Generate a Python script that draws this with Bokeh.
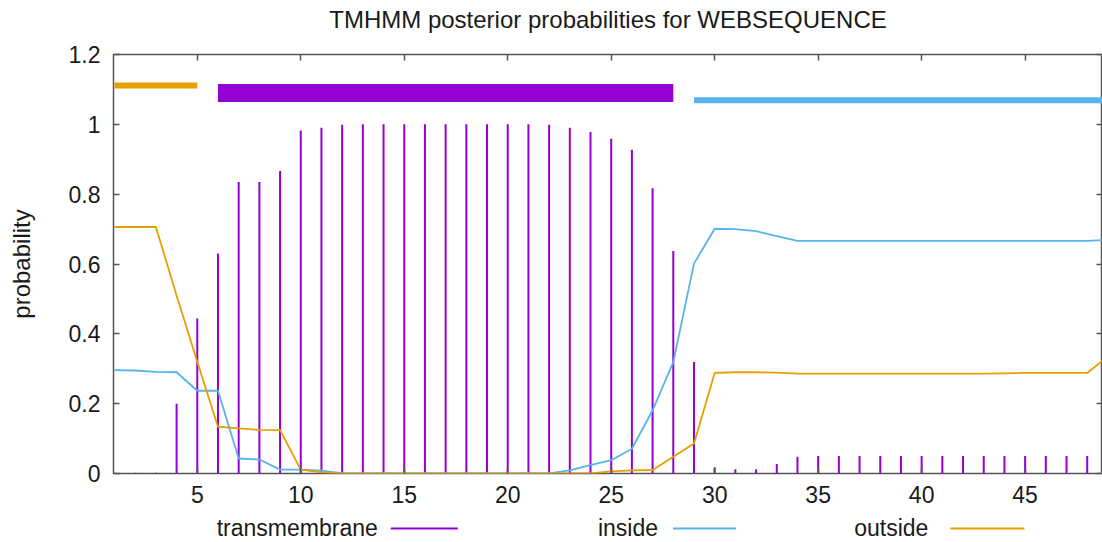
from bokeh.plotting import figure
from bokeh.models import (Range1d, FixedTicker, LinearAxis, CustomJSTickFormatter,
                          ColumnDataSource)
from bokeh.layouts import column
from bokeh.embed import file_html
from bokeh.resources import INLINE
from bokeh.core.properties import value

# ---------------- data ----------------
positions = list(range(1, 50))

transmembrane = [0.0, 0.002, 0.002, 0.20, 0.444, 0.63, 0.835, 0.835, 0.866, 0.982,
                 0.99, 0.999, 1.0, 1.0, 1.0, 1.0, 1.0, 1.0, 1.0, 1.0,
                 1.0, 0.999, 0.99, 0.978, 0.959, 0.927, 0.817, 0.637, 0.319, 0.017,
                 0.012, 0.012, 0.027, 0.048, 0.05, 0.05, 0.05, 0.05, 0.05, 0.05,
                 0.05, 0.05, 0.05, 0.05, 0.05, 0.05, 0.05, 0.05, 0.05]

inside = [0.296, 0.295, 0.291, 0.290, 0.237, 0.237, 0.043, 0.040, 0.011, 0.011,
          0.008, 0.001, 0.0, 0.0, 0.0, 0.0, 0.0, 0.0, 0.0, 0.0,
          0.0, 0.0, 0.009, 0.024, 0.038, 0.071, 0.181, 0.319, 0.601, 0.701,
          0.700, 0.694, 0.680, 0.666, 0.666, 0.666, 0.666, 0.666, 0.666, 0.666,
          0.666, 0.666, 0.666, 0.666, 0.666, 0.666, 0.666, 0.666, 0.669]

outside = [0.706, 0.706, 0.706, 0.51, 0.32, 0.134, 0.129, 0.125, 0.124, 0.011,
           0.003, 0.0, 0.0, 0.0, 0.0, 0.0, 0.0, 0.0, 0.0, 0.0,
           0.0, 0.0, 0.0, 0.0, 0.006, 0.009, 0.010, 0.048, 0.086, 0.288,
           0.290, 0.290, 0.289, 0.286, 0.286, 0.286, 0.286, 0.286, 0.286, 0.286,
           0.286, 0.286, 0.286, 0.287, 0.288, 0.288, 0.288, 0.288, 0.335]

# predicted topology segments (start, end)
seg_kind = ["outside", "TMhelix", "inside"]
seg_start = [1, 6, 29]
seg_end = [5, 28, 49]

x_ticks = [5, 10, 15, 20, 25, 30, 35, 40, 45]
y_ticks = [0, 0.2, 0.4, 0.6, 0.8, 1.0, 1.2]

legend_labels = ["transmembrane", "inside", "outside"]

title_text = "TMHMM posterior probabilities for WEBSEQUENCE"
y_label = "probability"

# ---------------- styles / layout ----------------
C_TM = "#9400d3"
C_IN = "#56b4e9"
C_OUT = "#e69f00"
FONT = "Liberation Sans"
FS = "23px"
TXT = "#1a1a1a"
FRAME = "#555555"
seg_style = {"outside": (C_OUT, 1.111, 6), "TMhelix": (C_TM, 1.09, 18), "inside": (C_IN, 1.069, 6)}

W = 1102
H_MAIN, H_LEG = 512, 30
B_LEFT, B_TOP, B_BOTTOM = 113, 54, 39
PX_PER_X = 20.675
X_START = 1 - 1.0 / PX_PER_X
X_END = X_START + (W - 1 - B_LEFT) / PX_PER_X


def sx_to_data(px):
    return X_START + (px - B_LEFT) / PX_PER_X


xr = Range1d(X_START, X_END)
p = figure(width=W, height=H_MAIN, x_range=xr, y_range=Range1d(0, 1.2),
           output_backend="svg", toolbar_location=None, title=None,
           min_border_left=B_LEFT, min_border_top=B_TOP, min_border_bottom=B_BOTTOM,
           min_border_right=0)
p.background_fill_color = "white"
p.border_fill_color = "white"
p.grid.visible = False
p.outline_line_color = FRAME
p.outline_line_width = 1.5


def style_axis(ax, labels=True):
    ax.axis_line_color = None
    ax.major_tick_line_color = FRAME
    ax.major_tick_line_width = 1.5
    ax.major_tick_in = 6
    ax.major_tick_out = 0
    ax.minor_tick_line_color = None
    ax.major_label_text_font = FONT
    ax.axis_label_text_font = FONT
    ax.axis_label_text_font_size = "24px"
    ax.axis_label_text_font_style = "normal"
    ax.axis_label_text_color = TXT
    if labels:
        ax.major_label_text_font_size = FS
        ax.major_label_text_color = TXT
        ax.major_label_standoff = 12
    else:
        ax.major_label_text_font_size = "0px"
        ax.major_label_text_color = None
        ax.major_label_standoff = 0


xa = p.xaxis[0]
xa.ticker = FixedTicker(ticks=x_ticks)
style_axis(xa)
xa.major_label_standoff = 12

ya = p.yaxis[0]
ya.ticker = FixedTicker(ticks=y_ticks)
ya.formatter = CustomJSTickFormatter(code="return (Math.round(tick*10)/10).toString();")
style_axis(ya)
ya.major_label_standoff = 13
ya.axis_label = y_label
ya.axis_label_standoff = 31

# mirrored ticks on top (carrying the title) and right
top = LinearAxis(ticker=FixedTicker(ticks=x_ticks))
style_axis(top, labels=False)
top.axis_label = title_text
top.axis_label_standoff = 22
p.add_layout(top, "above")
right = LinearAxis(ticker=FixedTicker(ticks=y_ticks))
style_axis(right, labels=False)
p.add_layout(right, "right")

src = ColumnDataSource(dict(pos=positions, tm=transmembrane, inside=inside, outside=outside,
                            zero=[0] * len(positions)))
p.segment(x0="pos", y0="zero", x1="pos", y1="tm", source=src, line_color=C_TM, line_width=2)
p.line("pos", "inside", source=src, line_color=C_IN, line_width=1.8)
p.line("pos", "outside", source=src, line_color=C_OUT, line_width=1.8)

seg_src = ColumnDataSource(dict(
    x0=seg_start, x1=seg_end,
    y=[seg_style[k][1] for k in seg_kind],
    color=[seg_style[k][0] for k in seg_kind],
    w=[seg_style[k][2] for k in seg_kind]))
p.segment(x0="x0", x1="x1", y0="y", y1="y", source=seg_src, line_color="color",
          line_width="w", line_cap="butt")

# ---------------- legend row (gnuplot style: label, then sample line) ----------------
leg = figure(width=W, height=H_LEG, x_range=xr, y_range=Range1d(H_MAIN + H_LEG, H_MAIN),
             output_backend="svg", toolbar_location=None, title=None, min_border=0,
             x_axis_location=None, y_axis_location=None)
leg.outline_line_color = None
leg.grid.visible = False
leg.background_fill_color = "white"
leg.border_fill_color = "white"
leg_text_right = [377, 657, 927]
leg_line_x0 = [390, 672, 949]
leg_line_x1 = [457, 735, 1023]
leg.text(x=[sx_to_data(v) for v in leg_text_right], y=[527.5] * 3, text=legend_labels,
         text_align="right", text_baseline="middle", text_font=value(FONT),
         text_font_size=FS, text_color=TXT)
leg.segment(x0=[sx_to_data(v) for v in leg_line_x0], x1=[sx_to_data(v) for v in leg_line_x1],
            y0=[528] * 3, y1=[528] * 3, line_color=[C_TM, C_IN, C_OUT], line_width=2)

layout = column(p, leg, spacing=0)
open("out.html", "w").write(file_html(layout, INLINE))
